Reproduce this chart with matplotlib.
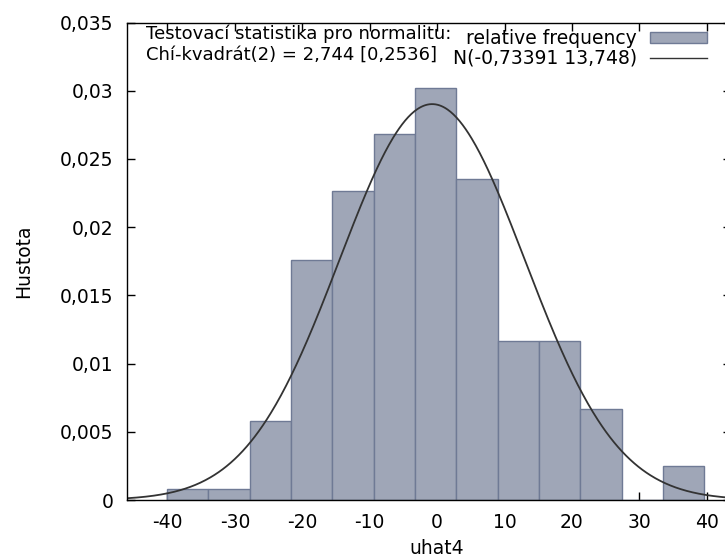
import numpy as np
import matplotlib
matplotlib.use("Agg")
import matplotlib.pyplot as plt
from matplotlib.patches import Patch
from matplotlib.lines import Line2D

# ---- data ----
bin_start = -40.05
bin_width = 6.13
densities = [0.00078, 0.00078, 0.0058, 0.01756, 0.02268, 0.02683, 0.0302,
             0.02354, 0.01166, 0.01166, 0.00668, 0.0, 0.00251]
norm_mu = -0.73391
norm_sigma = 13.748
x_ticks = [-40, -30, -20, -10, 0, 10, 20, 30, 40]
x_tick_labels = ["-40", "-30", "-20", "-10", "0", "10", "20", "30", "40"]
y_ticks = [0, 0.005, 0.01, 0.015, 0.02, 0.025, 0.03, 0.035]
y_tick_labels = ["0", "0,005", "0,01", "0,015", "0,02", "0,025", "0,03", "0,035"]
legend_labels = ["relative frequency", "N(-0,73391 13,748)"]
stat_lines = ["Testovací statistika pro normalitu:", "Chí-kvadrát(2) = 2,744 [0,2536]"]
x_label = "uhat4"
y_label = "Hustota"

plt.rcParams["font.family"] = ["DejaVu Sans"]
FS = 13.5
BAR_FACE = "#9fa6b7"
BAR_EDGE = "#6f7a95"
CURVE = "#333333"

W, H = 725, 559
fig = plt.figure(figsize=(W / 100, H / 100), dpi=100)
left_px, right_px, top_px, bot_px = 126.7, 731.0, 22.5, 500.0
ax = fig.add_axes([left_px / W, 1 - bot_px / H, (right_px - left_px) / W, (bot_px - top_px) / H])

xlim = (-46.05, 43.6)
ax.set_xlim(*xlim)
ax.set_ylim(0, 0.035)

edges = bin_start + bin_width * np.arange(len(densities))
ax.bar(edges, densities, width=bin_width, align="edge", facecolor=BAR_FACE,
       edgecolor=BAR_EDGE, linewidth=1.0, zorder=2)

xs = np.linspace(xlim[0], xlim[1], 600)
pdf = np.exp(-0.5 * ((xs - norm_mu) / norm_sigma) ** 2) / (norm_sigma * np.sqrt(2 * np.pi))
ax.plot(xs, pdf, color=CURVE, linewidth=1.3, zorder=3)

ax.set_xticks(x_ticks)
ax.set_xticklabels(x_tick_labels)
ax.set_yticks(y_ticks)
ax.set_yticklabels(y_tick_labels)
ax.tick_params(direction="in", length=6, width=1, top=True, right=True,
               labelsize=FS, colors="black", zorder=4)
ax.tick_params(axis="y", pad=9.5)
ax.tick_params(axis="x", pad=9)
for sp in ax.spines.values():
    sp.set_linewidth(1.0)
    sp.set_zorder(5)

ax.set_xlabel(x_label, fontsize=FS)
ax.xaxis.set_label_coords((437 - left_px) / (right_px - left_px), -(548 - bot_px) / (bot_px - top_px))
ax.xaxis.label.set_va("center")
ax.set_ylabel(y_label, fontsize=FS)
ax.yaxis.set_label_coords(-(left_px - 24) / (right_px - left_px), 0.5)
ax.yaxis.label.set_va("center")

fig.text(146.5 / W, 1 - 34 / H, stat_lines[0], fontsize=13, va="center", ha="left")
fig.text(146.5 / W, 1 - 54.5 / H, stat_lines[1], fontsize=13, va="center", ha="left")

handles = [Patch(facecolor=BAR_FACE, edgecolor=BAR_EDGE, linewidth=1.0),
           Line2D([], [], color=CURVE, linewidth=1.0)]
ax.legend(handles, legend_labels, loc="upper right",
          bbox_to_anchor=((707 - left_px) / (right_px - left_px), (bot_px - 29) / (bot_px - top_px)),
          frameon=False, markerfirst=False, fontsize=FS, handlelength=3.04,
          handleheight=0.55, handletextpad=0.7, labelspacing=0.05,
          borderaxespad=0, borderpad=0)

fig.savefig("out.png", dpi=100)
